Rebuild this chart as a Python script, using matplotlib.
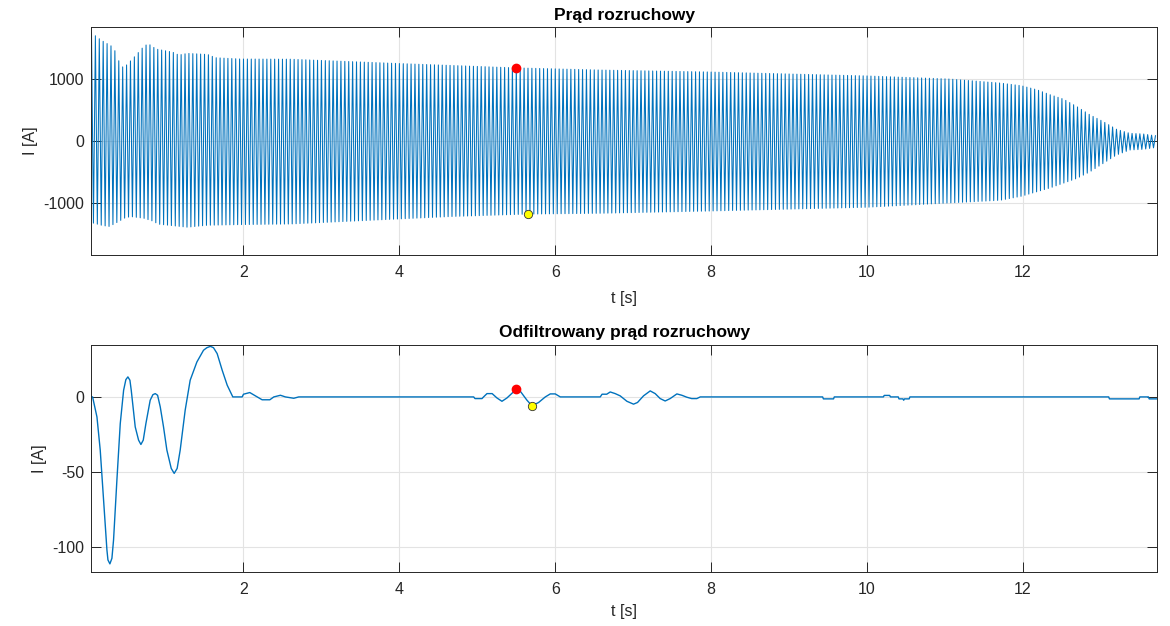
import numpy as np
import matplotlib
matplotlib.use('Agg')
import matplotlib.pyplot as plt

# envelope of the starting current (t [s], I [A])
UP_T = [0.05, 0.17, 0.32, 0.37, 0.42, 0.47, 0.51, 0.57, 0.68, 0.73, 0.79, 0.88, 1.09, 1.17,
        1.28, 1.54, 1.64, 1.96, 2.6, 4.0, 4.65, 5.5, 6.58, 8.0, 10.0, 11.06, 11.71, 11.98,
        12.18, 12.35, 12.52, 12.69, 12.86, 13.03, 13.20, 13.37, 13.54, 13.72]
UP_V = [1747, 1630, 1521, 1414, 1215, 1183, 1242, 1317, 1468, 1543, 1560, 1484, 1435, 1387,
        1414, 1397, 1344, 1323, 1320, 1250, 1220, 1180, 1145, 1113, 1050, 1000, 935, 892,
        827, 746, 676, 557, 422, 314, 190, 124, 114, 81]
LO_T = [0.05, 0.19, 0.28, 0.40, 0.47, 0.55, 0.72, 0.83, 0.91, 1.28, 1.54, 1.96, 2.6, 4.65,
        5.65, 6.58, 8.0, 10.0, 11.06, 11.71, 11.98, 12.35, 12.69, 12.86, 13.03, 13.20, 13.37,
        13.54, 13.72]
LO_V = [-1318, -1364, -1380, -1300, -1247, -1220, -1247, -1290, -1343, -1392, -1360, -1350,
        -1340, -1220, -1180, -1167, -1130, -1070, -1000, -957, -892, -757, -605, -497, -362,
        -227, -146, -135, -103]
HALF_PERIOD = 0.025  # apparent (aliased) half cycle on screen

# filtered current
F_T = [0.05, 0.064, 0.12, 0.162, 0.205, 0.248, 0.261, 0.286, 0.312, 0.333, 0.376, 0.419,
       0.462, 0.491, 0.517, 0.543, 0.56, 0.611, 0.654, 0.684, 0.714, 0.748, 0.803, 0.838,
       0.868, 0.898, 0.932, 0.974, 1.017, 1.073, 1.111, 1.149, 1.188, 1.252, 1.316, 1.402,
       1.487, 1.53, 1.575, 1.615, 1.662, 1.727, 1.791,
       1.863, 1.983, 2.0, 2.081, 2.153, 2.239, 2.338, 2.389, 2.474, 2.538,
       2.645, 2.709, 4.953, 4.97, 5.06, 5.08, 5.124, 5.19, 5.252, 5.316,
       5.38, 5.5, 5.551, 5.637, 5.701, 5.786, 5.872, 5.936, 6.0, 6.064,
       6.577, 6.6, 6.66, 6.705, 6.769, 6.833, 6.919, 7.004, 7.055, 7.132,
       7.218, 7.282, 7.346, 7.41, 7.474, 7.56, 7.624, 7.688, 7.75, 7.816,
       7.86, 9.43, 9.44, 9.57, 9.58, 10.21, 10.22, 10.29, 10.3, 10.40,
       10.41, 10.46, 10.47, 10.48, 10.54, 10.55, 13.10, 13.11, 13.49, 13.50,
       13.61, 13.62, 13.72]
F_V = [0, 0, -13.3, -35.3, -68.5, -101.7, -108.3, -110.9, -107.2, -95, -55.2, -17.7,
       4.4, 11.5, 13.3, 11.1, 4.4, -19.9, -28.7, -31.6, -28.7, -17.7, -2.2, 1.5,
       2.2, 1.1, -6.6, -19.9, -35.3, -47.5, -50.8, -47.5, -35.3, -8.8, 11.1, 23.2,
       31, 32.7, 33.6, 32.7, 28.8, 17.7, 7.8,
       0, 0, 1.8, 2.9, 0.7, -1.9, -1.9, 0, 1.1, 0,
       -0.9, 0, 0, -1.1, -1.1, 0, 2.2, 2.2, -0.7, -2.9,
       -0.7, 5.1, 3.8, -2.2, -5.9, -3.7, 0, 2.0, 2.0, 0,
       0, 1.8, 1.8, 3.3, 2.2, 0.7, -2.9, -4.8, -3.7, 0.7,
       4.0, 2.2, -1.1, -2.7, -1.1, 2.0, 1.1, -0.2, -1.1, -1.1,
       0, 0, -1.3, -1.3, 0, 0, 1.0, 1.0, 0, 0,
       -1.3, -1.3, -2.2, -1.3, -1.3, 0, 0, -1.3, -1.3, 0,
       0, -1.3, -1.3]

# markers (max / min)
RAW_MAX = (5.49, 1177)
RAW_MIN = (5.65, -1177)
FLT_MAX = (5.5, 5.1)
FLT_MIN = (5.70, -5.9)

BLUE = '#0072BD'
DARK = '#262626'
plt.rcParams['font.family'] = ['Liberation Sans', 'DejaVu Sans']
plt.rcParams['font.size'] = 11.5
plt.rcParams['axes.unicode_minus'] = False


def style_axes(ax):
    ax.grid(True, color='#e3e3e3', linewidth=0.8)
    ax.set_axisbelow(True)
    ax.tick_params(direction='in', length=7, width=0.7, top=True, right=True,
                   colors=DARK, labelsize=11.5)
    ax.tick_params(axis='x', pad=7)
    ax.tick_params(axis='y', pad=5)
    for s in ax.spines.values():
        s.set_color(DARK)
        s.set_linewidth(0.7)
    ax.set_xticks([2, 4, 6, 8, 10, 12])
    ax.set_xlim(0.05, 13.72)


fig = plt.figure(figsize=(11.7, 6.26), dpi=100)
ax1 = fig.add_axes([0.0782, 0.5927, 0.9107, 0.3647])
ax2 = fig.add_axes([0.0782, 0.0858, 0.9107, 0.3631])

# top: dense oscillation between the envelopes
tz = np.arange(UP_T[0], UP_T[-1] + 1e-9, HALF_PERIOD)
up = np.interp(tz, UP_T, UP_V)
lo = np.interp(tz, LO_T, LO_V)
iz = np.where(np.arange(len(tz)) % 2 == 0, up, lo)
ax1.plot(tz, iz, color=BLUE, linewidth=0.75)
ax1.plot(*RAW_MAX, 'o', ms=6, mfc='red', mec='red', zorder=5)
ax1.plot(*RAW_MIN, 'o', ms=6, mfc='yellow', mec='#333333', mew=0.6, zorder=5)
style_axes(ax1)
ax1.set_ylim(-1840, 1845)
ax1.set_yticks([-1000, 0, 1000])
ax1.set_title('Prąd rozruchowy', fontweight='bold', fontsize=12.5, pad=5)
ax1.set_xlabel('t [s]', color=DARK, labelpad=8)
ax1.set_ylabel('I [A]', color=DARK, labelpad=4)

ax2.plot(F_T, F_V, color=BLUE, linewidth=1.0)
ax2.plot(*FLT_MAX, 'o', ms=6, mfc='red', mec='red', zorder=5)
ax2.plot(*FLT_MIN, 'o', ms=6, mfc='yellow', mec='#333333', mew=0.6, zorder=5)
style_axes(ax2)
ax2.set_ylim(-116.5, 34.5)
ax2.set_yticks([-100, -50, 0])
ax2.set_title('Odfiltrowany prąd rozruchowy', fontweight='bold', fontsize=12.5, pad=6)
ax2.set_xlabel('t [s]', color=DARK, labelpad=5)
ax2.set_ylabel('I [A]', color=DARK, labelpad=4)

fig.savefig('out.png', dpi=100)
